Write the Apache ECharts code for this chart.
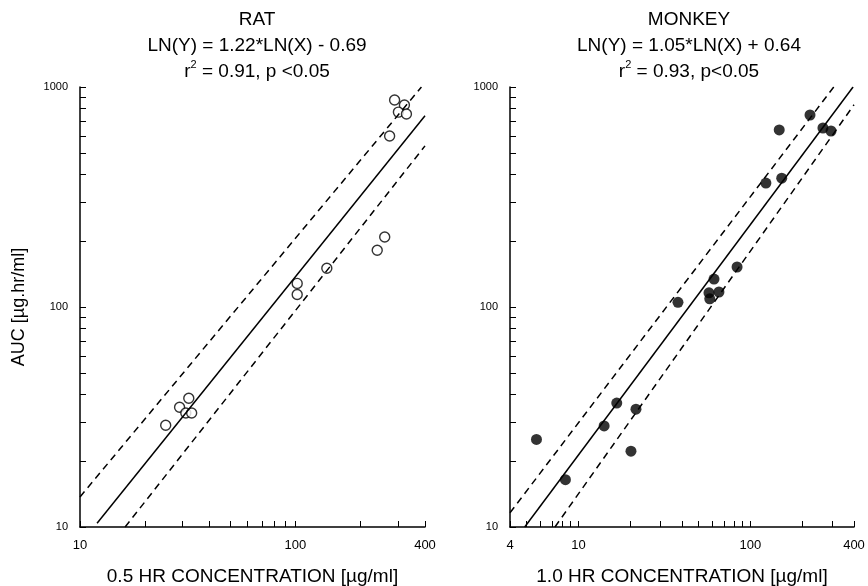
<!DOCTYPE html>
<html>
<head>
<meta charset="utf-8">
<script src="https://cdn.jsdelivr.net/npm/echarts@6/dist/echarts.min.js"></script>
<style>
html, body { margin: 0; padding: 0; background: #fff; }
#chart { width: 868px; height: 586px; }
</style>
</head>
<body>
<div id="chart"></div>
<script>
// rat: 0.5 hr concentration vs AUC
var ratPoints = [
    [25, 29], [29, 35], [32, 38.5], [31, 33], [33, 33],
    [102, 128], [102, 114], [140, 150], [240, 181], [260, 208],
    [274, 599], [289, 873], [321, 828], [301, 769], [328, 754]
];
// monkey: 1.0 hr concentration vs AUC
var monkeyPoints = [
    [5.7, 25], [8.4, 16.4], [14.1, 28.8], [16.7, 36.6], [21.6, 34.3], [20.2, 22.1],
    [37.9, 105], [57.4, 116], [58, 109], [65.6, 117], [61.4, 134], [83.6, 152],
    [123, 366], [152, 385], [147, 638], [222, 746], [264, 651], [294, 631]
];
// fitted line and band end points
var ratFit = [[12, 10.4], [400, 740]];
var ratUpper = [[10, 13.7], [385, 1000]];
var ratLower = [[16.2, 10], [400, 540]];
var monkeyFit = [[4.87, 10], [395, 1000]];
var monkeyUpper = [[4, 11.6], [305, 1000]];
var monkeyLower = [[7.3, 10], [400, 830]];

var ratXTicks = [10, 20, 30, 40, 50, 60, 70, 80, 90, 100, 200, 300, 400];
var ratXLabels = [10, 100, 400];
var monkeyXTicks = [4, 5, 6, 7, 8, 9, 10, 20, 30, 40, 50, 60, 70, 80, 90, 100, 200, 300, 400];
var monkeyXLabels = [4, 10, 100, 400];
var yTicks = [10, 20, 30, 40, 50, 60, 70, 80, 90, 100, 200, 300, 400, 500, 600, 700, 800, 900, 1000];
var yLabels = [10, 100, 1000];

var FONT = '"Liberation Sans", Arial, sans-serif';

function plainNum(v) {
    return String(Math.round(v));
}

function xAxisOpt(_grid, _min, _ticks, _labels, _name) {
    return {
        type: 'log', logBase: 10, gridIndex: _grid, min: _min, max: 400,
        name: _name, nameLocation: 'middle', nameGap: 40,
        nameTextStyle: {fontFamily: FONT, fontSize: 19, color: '#000'},
        axisLine: {lineStyle: {color: '#000', width: 1.5}},
        axisTick: {inside: true, length: 6, customValues: _ticks, lineStyle: {color: '#000'}},
        minorTick: {show: false},
        axisLabel: {customValues: _labels, formatter: plainNum, fontFamily: FONT, fontSize: 13, color: '#000', margin: 12},
        splitLine: {show: false}
    };
}

function yAxisOpt(_grid, _name) {
    return {
        type: 'log', logBase: 10, gridIndex: _grid, min: 10, max: 1000,
        name: _name, nameLocation: 'middle', nameGap: 52,
        nameTextStyle: {fontFamily: FONT, fontSize: 18, color: '#000'},
        axisLine: {lineStyle: {color: '#000', width: 1.5}},
        axisTick: {inside: true, length: 6, customValues: yTicks, lineStyle: {color: '#000'}},
        axisLabel: {customValues: yLabels, formatter: plainNum, fontFamily: FONT, fontSize: 11, color: '#000', margin: 12},
        splitLine: {show: false}
    };
}

function lineSeries(_idx, _data, _dashed) {
    return {
        type: 'line', xAxisIndex: _idx, yAxisIndex: _idx, data: _data,
        symbol: 'none', silent: true,
        lineStyle: {color: '#000', width: 1.5, type: _dashed ? [7, 5] : 'solid'}
    };
}

var titleStyle = {
    fontFamily: FONT, fontSize: 19, fontWeight: 'normal', color: '#000', lineHeight: 26,
    rich: {sup: {fontFamily: FONT, fontSize: 11, color: '#000', verticalAlign: 'top', lineHeight: 26, padding: [0, 0, 9, 0]}}
};

var myChart = echarts.init(document.getElementById('chart'));
var option = {
    animation: false,
    backgroundColor: '#fff',
    title: [
        {text: 'RAT\nLN(Y) = 1.22*LN(X) - 0.69\nr{sup|2} = 0.91, p <0.05', left: 252, top: 2, textAlign: 'center', textStyle: titleStyle},
        {text: 'MONKEY\nLN(Y) = 1.05*LN(X) + 0.64\nr{sup|2} = 0.93, p<0.05', left: 684, top: 2, textAlign: 'center', textStyle: titleStyle}
    ],
    grid: [
        {left: 80, right: 443, top: 87, bottom: 59, outerBoundsMode: 'none'},
        {left: 510, right: 14, top: 87, bottom: 59, outerBoundsMode: 'none'}
    ],
    xAxis: [
        xAxisOpt(0, 10, ratXTicks, ratXLabels, '0.5 HR CONCENTRATION [µg/ml]'),
        xAxisOpt(1, 4, monkeyXTicks, monkeyXLabels, '1.0 HR CONCENTRATION [µg/ml]')
    ],
    yAxis: [
        yAxisOpt(0, 'AUC [µg.hr/ml]'),
        yAxisOpt(1, '')
    ],
    series: [
        lineSeries(0, ratFit, false),
        lineSeries(0, ratUpper, true),
        lineSeries(0, ratLower, true),
        {
            type: 'scatter', xAxisIndex: 0, yAxisIndex: 0, data: ratPoints,
            symbol: 'circle', symbolSize: 10,
            itemStyle: {color: '#fff', borderColor: '#000', borderWidth: 1.4}
        },
        lineSeries(1, monkeyFit, false),
        lineSeries(1, monkeyUpper, true),
        lineSeries(1, monkeyLower, true),
        {
            type: 'scatter', xAxisIndex: 1, yAxisIndex: 1, data: monkeyPoints,
            symbol: 'circle', symbolSize: 11,
            itemStyle: {color: '#000'}
        }
    ]
};
myChart.setOption(option);
</script>
</body>
</html>
